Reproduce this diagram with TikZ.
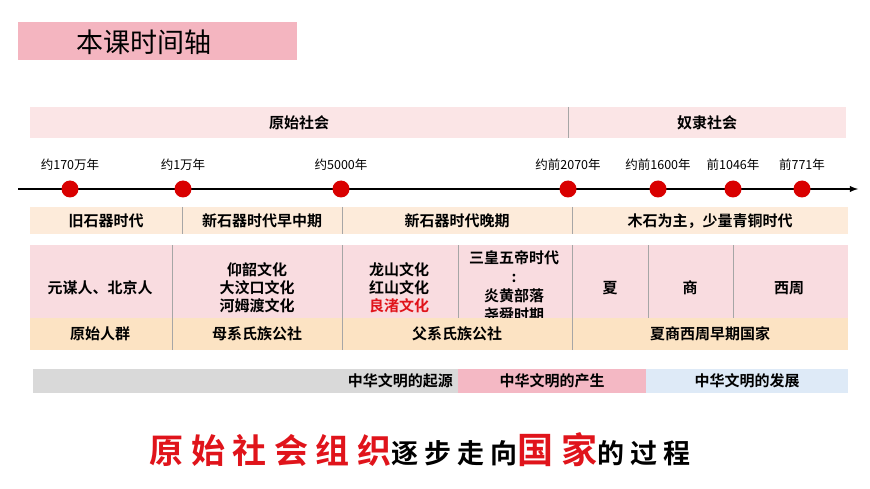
\documentclass[tikz,border=0pt]{standalone}
\usepackage{fontspec}
\setmainfont{Noto Sans CJK SC}[BoldFont={* Bold}]
\newfontfamily\cjkb{Noto Sans CJK SC Bold}
\newfontfamily\cjks{Noto Sans CJK SC Bold}[LetterSpace=22]
\begin{document}
\begin{tikzpicture}[x=1pt,y=-1pt,
  txt/.style={font=\cjkb\fontsize{15}{17}\selectfont,align=center,inner sep=0pt},
  dt/.style={font=\fontsize{12.5}{14}\selectfont,inner sep=0pt},
  dot/.style={circle,fill=red!85!black,minimum size=17pt,inner sep=0pt}]
\definecolor{lp}{HTML}{FBE5E6}
\definecolor{pk}{HTML}{F9DCE0}
\definecolor{pe}{HTML}{FDEBDA}
\definecolor{or}{HTML}{FCE3C3}
\definecolor{tb}{HTML}{F4B5C0}
\definecolor{gr}{HTML}{D9D9D9}
\definecolor{pb}{HTML}{F4B8C4}
\definecolor{bl}{HTML}{DEEAF7}
\definecolor{rd}{HTML}{E0141B}
\useasboundingbox (0,0) rectangle (870,489);
\fill[white] (0,0) rectangle (870,489);
% title
\fill[tb] (18,22) rectangle (297,60);
\node[anchor=west,font=\fontsize{27}{30}\selectfont,inner sep=0pt] (title) at (76,42) {本课时间轴};
% society row
\fill[lp] (30,107) rectangle (846,138);
\draw[gray!70] (568,107) -- (568,138);
\node[txt] (ys) at (299,123) {原始社会};
\node[txt] (nl) at (707,123) {奴隶社会};
% axis
\coordinate (a0) at (18,189); \coordinate (a1) at (858,189);
\draw[line width=1.8pt,-latex] (a0) -- (a1);
\foreach \x/\t/\n in {70/约170万年/d1,183/约1万年/d2,341/约5000年/d3,568/约前2070年/d4,658/约前1600年/d5,733/前1046年/d6,802/前771年/d7}{
  \node[dot] (\n) at (\x,189) {};
  \node[dt] at (\x,165) {\t};
}
% row3
\fill[pe] (30,207) rectangle (848,234);
\foreach \x in {182,342,572} \draw[gray!70] (\x,207) -- (\x,234);
\node[txt] at (106,221) {旧石器时代};
\node[txt] at (262,221) {新石器时代早中期};
\node[txt] at (457,221) {新石器时代晚期};
\node[txt] at (710,221) {木石为主，少量青铜时代};
% row4
\fill[pk] (30,245) rectangle (848,318);
\foreach \x in {172,342,458,572,648,733} \draw[gray!70] (\x,245) -- (\x,318);
\node[txt] at (100,288) {元谋人、北京人};
\node[txt,font=\cjkb\fontsize{15}{18}\selectfont] at (257,288) {仰韶文化\\大汶口文化\\河姆渡文化};
\node[txt,font=\cjkb\fontsize{15}{18}\selectfont] at (399,288) {龙山文化\\红山文化\\\textcolor{rd}{良渚文化}};
\begin{scope}
\clip (458,245) rectangle (572,318);
\node[txt,font=\cjkb\fontsize{15}{19}\selectfont,anchor=north] at (514,250) {三皇五帝时代\\:\\炎黄部落\\尧舜时期};
\end{scope}
\node[txt] at (610,288) {夏};
\node[txt] at (690,288) {商};
\node[txt] at (789,288) {西周};
% row5
\fill[or] (30,318) rectangle (848,350);
\foreach \x in {172,342,572} \draw[gray!70] (\x,318) -- (\x,350);
\node[txt] at (100,334) {原始人群};
\node[txt] at (257,334) {母系氏族公社};
\node[txt] at (457,334) {父系氏族公社};
\node[txt] at (710,334) {夏商西周早期国家};
% bottom bar
\fill[gr] (33,369) rectangle (458,393);
\fill[pb] (458,369) rectangle (646,393);
\fill[bl] (646,369) rectangle (848,393);
\node[txt,anchor=east] at (453,381) {中华文明的起源};
\node[txt] at (552,381) {中华文明的产生};
\node[txt] at (747,381) {中华文明的发展};
% slogan
\node[font=\cjks\fontsize{34}{38}\selectfont,inner sep=0pt] (sl) at (420,450) {\textcolor{rd}{原始社会组织}\fontsize{27}{34}\selectfont 逐步走向\fontsize{36}{38}\selectfont\textcolor{rd}{国家}\fontsize{27}{34}\selectfont 的过程};
\end{tikzpicture}
\end{document}
